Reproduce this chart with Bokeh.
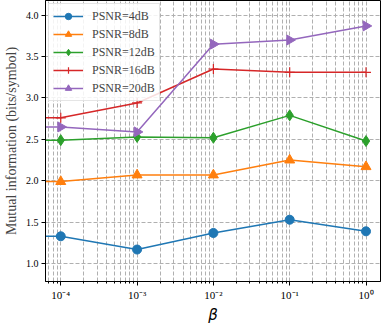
import math
from bokeh.plotting import figure
from bokeh.models import Range1d, FixedTicker, Legend, LegendItem, NumeralTickFormatter, CustomJSTickFormatter, Title
from bokeh.embed import file_html
from bokeh.resources import INLINE

# beta values (x axis, log scale); the curves start at beta = 0, which a log axis clips
beta = [1e-4, 1e-3, 1e-2, 1e-1, 1.0]
beta_zero_clipped = 1e-9

labels = ["PSNR=4dB", "PSNR=8dB", "PSNR=12dB", "PSNR=16dB", "PSNR=20dB"]
mi_4db = [1.33, 1.17, 1.37, 1.53, 1.39]
mi_8db = [1.99, 2.07, 2.07, 2.25, 2.17]
mi_12db = [2.49, 2.53, 2.52, 2.79, 2.48]
mi_16db = [2.76, 2.94, 3.35, 3.31, 3.31]
mi_20db = [2.65, 2.59, 3.65, 3.70, 3.87]
series = [mi_4db, mi_8db, mi_12db, mi_16db, mi_20db]

colors = ["#1f77b4", "#ff7f0e", "#2ca02c", "#d62728", "#9467bd"]
markers = ["circle", "triangle", "diamond", "cross", "triangle"]
angles = [0, 0, 0, 0, -math.pi / 2]
sizes = [9, 10, 11, 10, 10]

major_ticks = [1e-4, 1e-3, 1e-2, 1e-1, 1.0]
minor_ticks = [m * 10.0 ** k for k in range(-5, 1) for m in range(2, 10)]
y_ticks = [1.0, 1.5, 2.0, 2.5, 3.0, 3.5, 4.0]

x_lo, x_hi = 10 ** -4.2, 10 ** 0.19
y_lo, y_hi = 0.784, 4.177

p = figure(width=382, height=323, x_axis_type="log", output_backend="svg",
           toolbar_location=None,
           x_range=Range1d(x_lo, x_hi), y_range=Range1d(y_lo, y_hi),
           min_border_left=30, min_border_right=2, min_border_top=0, min_border_bottom=0)

items = []
for lab, ys, c, mk, ang, sz in zip(labels, series, colors, markers, angles, sizes):
    xs_line = [beta_zero_clipped] + beta
    ys_line = [ys[0]] + ys
    r1 = p.line(xs_line, ys_line, line_color=c, line_width=1.5)
    if mk == "cross":
        r2 = p.scatter(beta, ys, marker=mk, size=sz, line_color=c, line_width=1.2)
    else:
        r2 = p.scatter(beta, ys, marker=mk, size=sz, angle=ang, fill_color=c, line_color=c)
    items.append(LegendItem(label=lab, renderers=[r1, r2]))

legend = Legend(items=items, location="top_left")
legend.label_text_font = "Liberation Serif"
legend.label_text_font_size = "12px"
legend.glyph_width = 30
legend.glyph_height = 16
legend.label_height = 16
legend.spacing = 2
legend.padding = 4
legend.margin = 3
legend.label_standoff = 9
legend.border_line_color = "#cccccc"
legend.border_line_width = 1
legend.background_fill_alpha = 0.85
p.add_layout(legend)

p.xaxis.ticker = FixedTicker(ticks=major_ticks, minor_ticks=minor_ticks)
p.xaxis.formatter = CustomJSTickFormatter(code="""
const sup = {"-": "\u207b", "0": "\u2070", "1": "\u00b9", "2": "\u00b2", "3": "\u00b3",
             "4": "\u2074", "5": "\u2075", "6": "\u2076", "7": "\u2077", "8": "\u2078", "9": "\u2079"};
const e = Math.round(Math.log10(tick));
return "10" + String(e).split("").map(c => sup[c]).join("");
""")
p.yaxis.ticker = FixedTicker(ticks=y_ticks)
p.yaxis.formatter = NumeralTickFormatter(format="0.0")
p.yaxis.minor_tick_line_color = None

for ax in (p.xaxis, p.yaxis):
    ax.major_label_text_font = "Liberation Serif"
    ax.major_label_text_font_size = "10px"
    ax.major_label_text_color = "black"
    ax.axis_line_color = "black"
    ax.major_tick_line_color = "black"
    ax.major_tick_out = 4
    ax.major_tick_in = 0
    ax.minor_tick_out = 2
    ax.minor_tick_in = 0
    ax.major_label_standoff = 3

p.xaxis.major_label_text_font_size = "11px"
p.xaxis.major_label_standoff = 3

# x-axis title as a centred title below the axis
beta_title = Title(text="β", align="center", text_font="DejaVu Sans",
                   text_font_style="italic", text_font_size="15px",
                   text_color="black", standoff=0, offset=0)
p.add_layout(beta_title, "below")

p.yaxis.axis_label = "Mutual information (bits/symbol)"
p.yaxis.axis_label_text_font = "Liberation Serif"
p.yaxis.axis_label_text_font_style = "normal"
p.yaxis.axis_label_text_font_size = "14px"
p.yaxis.axis_label_standoff = 4

p.xgrid.grid_line_color = "#b0b0b0"
p.xgrid.grid_line_dash = "4 2"
p.xgrid.minor_grid_line_color = "#b0b0b0"
p.xgrid.minor_grid_line_dash = "4 2"
p.ygrid.grid_line_color = "#b0b0b0"
p.ygrid.grid_line_dash = "4 2"

p.outline_line_color = "black"
p.outline_line_width = 1
p.background_fill_color = "white"

open("out.html", "w").write(file_html(p, INLINE))
